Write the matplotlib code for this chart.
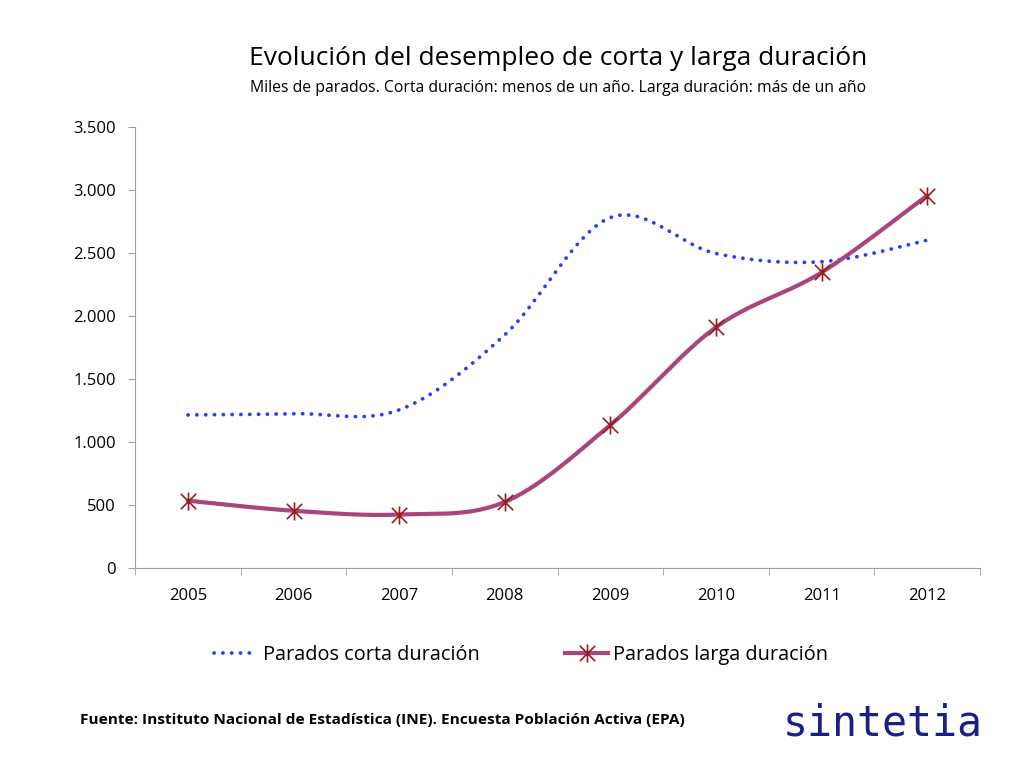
import numpy as np
import matplotlib
matplotlib.use("Agg")
import matplotlib.pyplot as plt
from matplotlib.lines import Line2D
from matplotlib.path import Path

# data (miles de parados)
years = [2005, 2006, 2007, 2008, 2009, 2010, 2011, 2012]
corta = [1215, 1225, 1255, 1850, 2780, 2495, 2430, 2600]
larga = [535, 455, 425, 525, 1135, 1910, 2345, 2955]
yticks = [0, 500, 1000, 1500, 2000, 2500, 3000, 3500]

title = "Evolución del desempleo de corta y larga duración"
subtitle = "Miles de parados. Corta duración: menos de un año. Larga duración: más de un año"
source = "Fuente: Instituto Nacional de Estadística (INE). Encuesta Población Activa (EPA)"

plt.rcParams['font.family'] = ['Open Sans', 'DejaVu Sans']


def smooth(x, y, n=40):
    # excel-like smoothing: bezier segments with catmull-rom control points
    x = np.asarray(x, float)
    y = np.asarray(y, float)
    px = np.concatenate([[x[0]], x, [x[-1]]])
    py = np.concatenate([[y[0]], y, [y[-1]]])
    xs, ys = [], []
    t = np.linspace(0, 1, n)
    for i in range(1, len(x)):
        p0 = np.array([px[i], py[i]])
        p3 = np.array([px[i + 1], py[i + 1]])
        p1 = p0 + (np.array([px[i + 1], py[i + 1]]) - np.array([px[i - 1], py[i - 1]])) / 6
        p2 = p3 - (np.array([px[i + 2], py[i + 2]]) - np.array([px[i], py[i]])) / 6
        b = ((1 - t) ** 3)[:, None] * p0 + (3 * (1 - t) ** 2 * t)[:, None] * p1 \
            + (3 * (1 - t) * t ** 2)[:, None] * p2 + (t ** 3)[:, None] * p3
        xs.extend(b[:, 0])
        ys.extend(b[:, 1])
    return np.array(xs), np.array(ys)


blue = '#2b3dff'
plum = '#a8457a'
dark_red = '#9b1c1c'
dotted = (0, (0.05, 2.3))

# star marker: vertical bar plus an X
star = Path([(0, -1), (0, 1), (-0.85, -0.85), (0.85, 0.85), (-0.85, 0.85), (0.85, -0.85)],
            [Path.MOVETO, Path.LINETO] * 3)

fig = plt.figure(figsize=(10.24, 7.73), dpi=100)
ax = fig.add_axes([0.132, 0.265, 0.825, 0.571])

xs, ys = smooth(years, corta)
ax.plot(xs, ys, color=blue, lw=2.7, linestyle=dotted, dash_capstyle='round')
xs, ys = smooth(years, larga)
ax.plot(xs, ys, color=plum, lw=3, solid_capstyle='round')
ax.plot(years, larga, linestyle='none', marker=star, markersize=13,
        markeredgecolor=dark_red, markeredgewidth=1.2)

ax.set_xlim(2004.5, 2012.5)
ax.set_ylim(0, 3500)
ax.set_yticks(yticks)
ax.set_yticklabels([f"{v:,}".replace(',', '.') for v in yticks], fontsize=12)
ax.set_xticks(years)
ax.set_xticklabels([str(y) for y in years], fontsize=12)
ax.set_xticks(np.arange(2004.5, 2013, 1), minor=True)
ax.tick_params(axis='x', which='major', length=0, pad=14)
ax.tick_params(axis='x', which='minor', length=5, color='#a0a0a0', direction='out')
ax.tick_params(axis='y', length=5, color='#a0a0a0', direction='out', pad=9)
for s in ['top', 'right']:
    ax.spines[s].set_visible(False)
for s in ['left', 'bottom']:
    ax.spines[s].set_color('#a0a0a0')

fig.text(0.545, 0.924, title, ha='center', va='center', fontsize=19)
fig.text(0.545, 0.886, subtitle, ha='center', va='center', fontsize=11.3)

handles = [
    Line2D([], [], color=blue, lw=2.7, linestyle=dotted, dash_capstyle='round'),
    Line2D([], [], color=plum, lw=3, marker=star, markersize=13,
           markeredgecolor=dark_red, markeredgewidth=1.2),
]
fig.legend(handles, ["Parados corta duración", "Parados larga duración"],
           loc='center', bbox_to_anchor=(0.509, 0.153), ncol=2, frameon=False,
           fontsize=14.3, handlelength=2.2, handletextpad=0.25, columnspacing=4.3)

fig.text(0.078, 0.068, source, ha='left', va='center', fontsize=11.1, fontweight='bold')
fig.text(0.96, 0.064, "sintetia", ha='right', va='center', fontsize=30,
         family='DejaVu Sans Mono', color='#1a1f8a')

fig.savefig('out.png', dpi=100)
